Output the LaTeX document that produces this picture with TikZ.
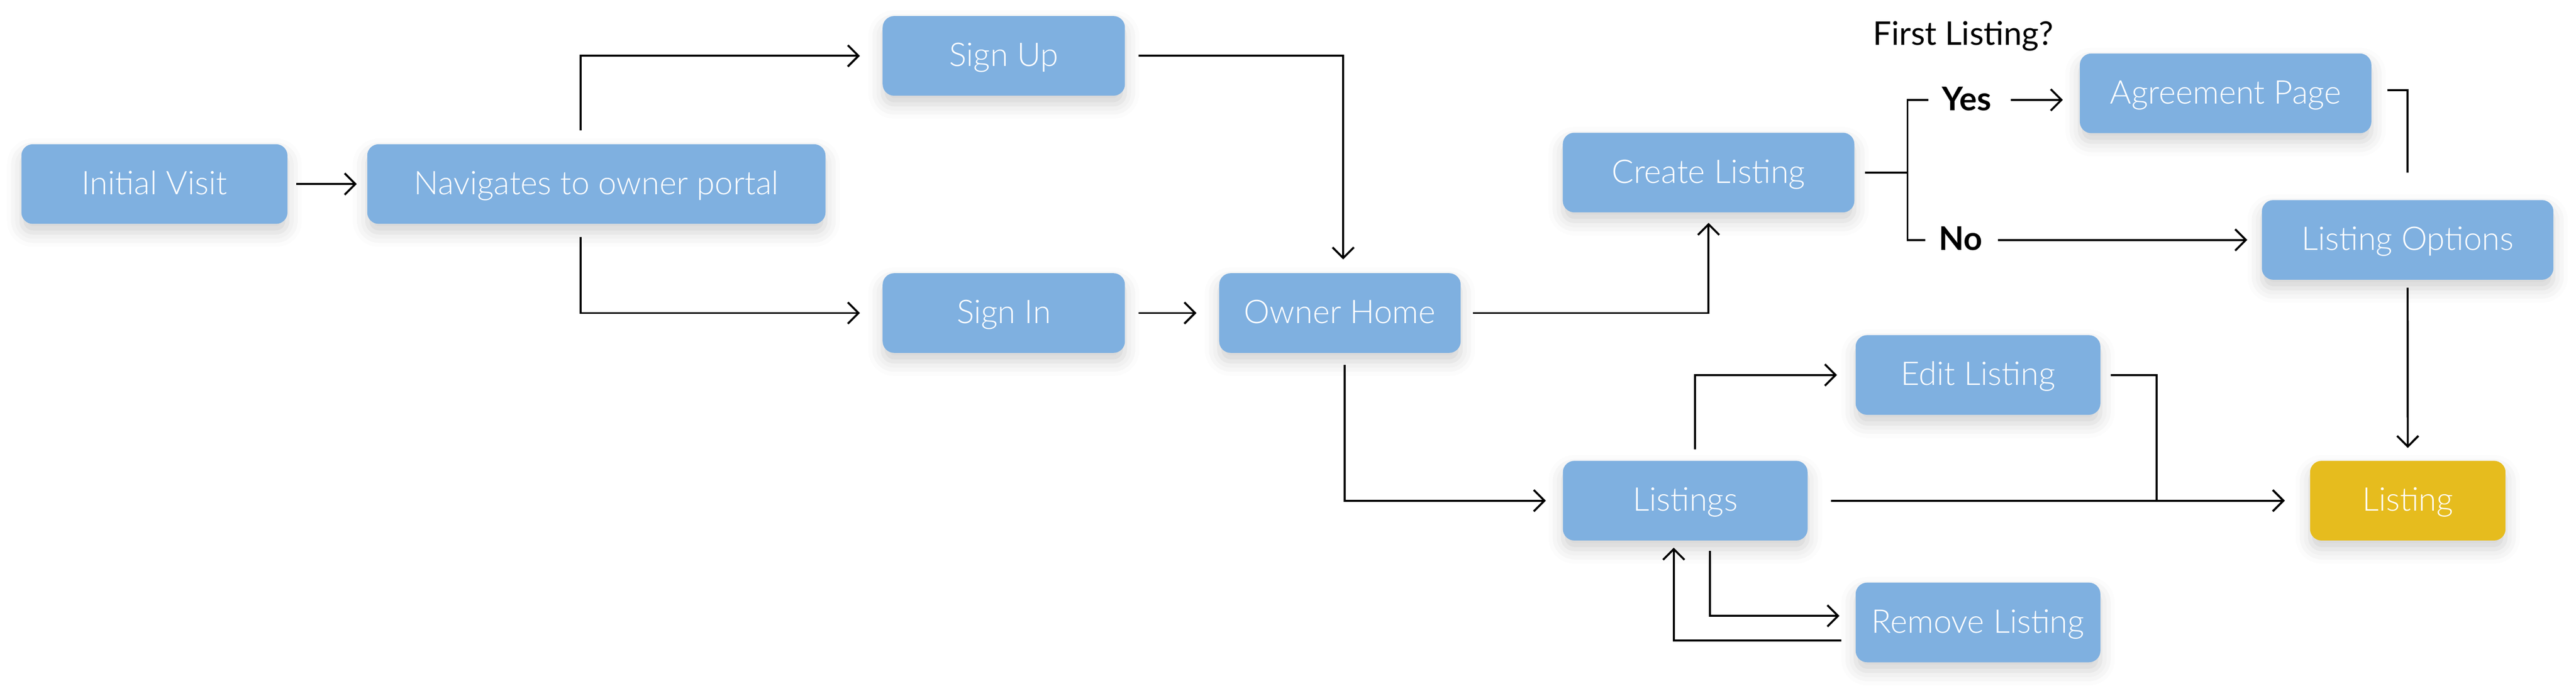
\documentclass[tikz,border=0pt]{standalone}
\usepackage{fontspec}
\setmainfont{Lato}
\newfontfamily\lightfont{Lato Light}
\usetikzlibrary{arrows.meta,shadows.blur}
\definecolor{boxblue}{RGB}{127,176,224}
\definecolor{listyellow}{RGB}{230,188,30}
\begin{document}
\begin{tikzpicture}[>={Straight Barb[length=1.3mm,width=2.6mm]},x=0.02cm,y=-0.02cm,
	box/.style={rounded corners=1.4mm,fill=boxblue,text=white,minimum height=0.97cm,inner sep=0pt,
		text height=0.9em,text depth=0.18em,font=\lightfont\fontsize{11.3}{13}\selectfont,
		blur shadow={shadow xshift=0pt,shadow yshift=-3pt,shadow blur radius=5pt,shadow opacity=18}},
	label/.style={inner sep=0pt,text height=0.9em,text depth=0.18em,font=\fontsize{11.3}{13}\selectfont},
	link/.style={line width=0.7pt,shorten <=0.15cm,shorten >=0.2cm},
	flow/.style={link,->}]
		\useasboundingbox (0,0) rectangle (1568,420.3);
		% boxes
		\node[box,minimum width=3.24cm] (init) at (94,112) {Initial Visit};
		\node[box,minimum width=5.58cm] (portal) at (363,112) {Navigates to owner portal};
		\node[box,minimum width=2.95cm] (signup) at (611,34) {Sign Up};
		\node[box,minimum width=2.95cm] (signin) at (611,190.5) {Sign In};
		\node[box,minimum width=2.94cm] (home) at (815.6,190.5) {Owner Home};
		\node[box,minimum width=3.55cm] (create) at (1040,105) {Create Listing};
		\node[box,minimum width=3.55cm] (agree) at (1354.7,56.8) {Agreement Page};
		\node[box,minimum width=3.55cm] (options) at (1465.5,146) {Listing Options};
		\node[box,minimum width=2.98cm] (edit) at (1204,228.2) {Edit Listing};
		\node[box,minimum width=2.98cm] (listings) at (1025.8,304.7) {Listings};
		\node[box,fill=listyellow,minimum width=2.38cm] (listing) at (1465.6,304.7) {Listing};
		\node[box,minimum width=2.98cm] (remove) at (1204,378.8) {Remove Listing};
		% labels
		\node[label] (question) at (1195,21) {First Listing?};
		\node[label,font=\bfseries\fontsize{11.3}{13}\selectfont] (yes) at (1197,60.8) {Yes};
		\node[label,font=\bfseries\fontsize{11.3}{13}\selectfont] (no) at (1193.5,146) {No};
		% connectors
		\draw[flow,shorten <=0.1cm,shorten >=0.12cm] (init.east) -- (portal.west);
		\draw[flow,shorten <=0.16cm,shorten >=0.27cm] ([xshift=-0.19cm]portal.north) |- (signup.west);
		\draw[flow,shorten <=0.15cm,shorten >=0.27cm] ([xshift=-0.19cm]portal.south) |- (signin.west);
		\draw[flow,shorten <=0.16cm,shorten >=0.16cm] (signup.east) -| ([xshift=0.04cm]home.north);
		\draw[flow,shorten <=0.16cm,shorten >=0.27cm] (signin.east) -- (home.west);
		\draw[flow,shorten <=0.14cm,shorten >=0.12cm] (home.east) -| (create.south);
		\draw[flow,shorten <=0.14cm,shorten >=0.2cm] ([xshift=0.06cm]home.south) |- (listings.west);
		\coordinate (fork) at ([xshift=0.64cm]create.east);
		\draw[link,shorten <=0.12cm,shorten >=0pt] (create.east) -- (fork);
		\draw[link,shorten <=0pt,shorten >=0.16cm] (fork) |- (yes.west);
		\draw[link,shorten <=0pt,shorten >=0.16cm] (fork) |- (no.west);
		\draw[flow,shorten <=0.23cm,shorten >=0.2cm] (yes.east) -- (yes.east -| agree.west);
		\draw[flow,shorten <=0.18cm,shorten >=0.17cm] (no.east) -- (no.east -| options.west);
		\draw[link,shorten <=0.19cm,shorten >=0.33cm] ([yshift=0.04cm]agree.east) -| (options.north);
		\draw[flow,shorten <=0.09cm,shorten >=0.15cm] (options.south) -- (listing.north);
		\draw[flow,shorten <=0.28cm,shorten >=0.3cm] (listings.east) -- (listing.west);
		\coordinate (editjog) at ([xshift=0.68cm]edit.east);
		\draw[link,shorten <=0.12cm,shorten >=0pt] (edit.east) -| (editjog |- listings.east);
		\draw[flow,shorten <=0.13cm,shorten >=0.22cm] ([xshift=0.12cm]listings.north) |- (edit.west);
		\draw[flow,shorten <=0.12cm,shorten >=0.19cm] ([xshift=0.3cm]listings.south) |- ([yshift=0.08cm]remove.west);
		\draw[flow,shorten <=0.17cm,shorten >=0.08cm] ([yshift=-0.22cm]remove.west) -| ([xshift=-0.14cm]listings.south);
\end{tikzpicture}
\end{document}
